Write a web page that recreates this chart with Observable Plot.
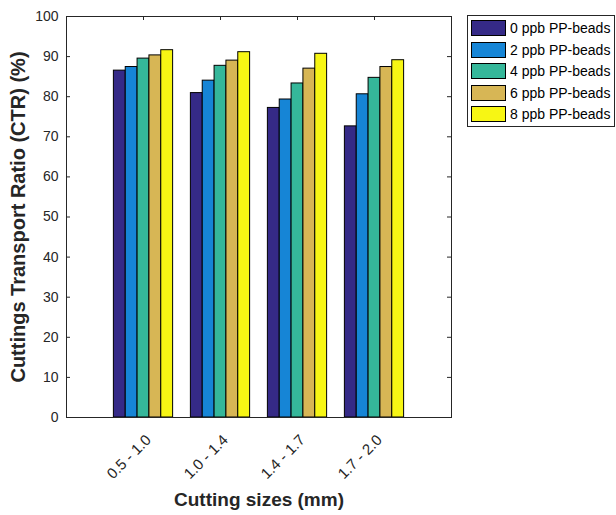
<!DOCTYPE html>
<html>
<head>
<meta charset="utf-8">
<script src="https://cdn.jsdelivr.net/npm/d3@7"></script>
<script src="https://cdn.jsdelivr.net/npm/@observablehq/plot@0.6"></script>
<style>
  html, body { margin: 0; padding: 0; background: #fff; }
  #wrap { position: relative; width: 616px; height: 515px; font-family: "Liberation Sans", Arial, sans-serif; }
  #legend { position: absolute; left: 467px; top: 15px; width: 148px; height: 112px; border: 1px solid #262626; background: #fff; box-sizing: border-box; }
  .item { position: absolute; left: 3px; height: 16px; display: flex; align-items: center; }
  .sw { width: 35px; height: 16px; border: 1px solid #000; box-sizing: border-box; margin-right: 4px; }
  .lt { font-size: 14px; color: #000; white-space: nowrap; line-height: 16px; }
</style>
</head>
<body>
<div id="wrap"></div>
<script>
// ---- data ----
const categories = ["0.5 - 1.0", "1.0 - 1.4", "1.4 - 1.7", "1.7 - 2.0"];
const seriesNames = ["0 ppb PP-beads", "2 ppb PP-beads", "4 ppb PP-beads", "6 ppb PP-beads", "8 ppb PP-beads"];
const ppb0 = [86.5, 80.9, 77.2, 72.6];
const ppb2 = [87.4, 84.0, 79.3, 80.6];
const ppb4 = [89.5, 87.7, 83.3, 84.7];
const ppb6 = [90.3, 89.0, 87.0, 87.4];
const ppb8 = [91.6, 91.1, 90.7, 89.1];
const yTicks = [0, 10, 20, 30, 40, 50, 60, 70, 80, 90, 100];
const colors = ["#352A87", "#1685D6", "#35B79A", "#D7B655", "#F7F614"];
const yLabel = "Cuttings Transport Ratio (CTR) (%)";
const xLabel = "Cutting sizes (mm)";

const seriesValues = [ppb0, ppb2, ppb4, ppb6, ppb8];
const nS = seriesNames.length;
const groupW = nS / (nS + 1.5);
const barW = groupW / nS;
const table = [];
categories.forEach((c, gi) => {
  seriesValues.forEach((vals, si) => {
    const x1 = gi + 1 - groupW / 2 + si * barW;
    table.push({category: c, series: seriesNames[si], value: vals[gi], x1, x2: x1 + barW});
  });
});
const catPos = categories.map((c, i) => ({label: c, pos: i + 1}));

const font = "Liberation Sans, Arial, sans-serif";
const ink = "#262626";

const chart = Plot.plot({
  width: 616,
  height: 515,
  marginLeft: 66,
  marginRight: 165,
  marginTop: 16,
  marginBottom: 98,
  style: {fontFamily: font, background: "#fff", overflow: "visible"},
  x: {domain: [0, catPos.length + 1], axis: null},
  y: {domain: [0, 100], axis: null},
  color: {domain: seriesNames, range: colors},
  marks: [
    Plot.rect(table, {x1: "x1", x2: "x2", y1: 0, y2: "value", fill: "series", stroke: "#000", strokeWidth: 1}),
    Plot.frame({stroke: ink, strokeWidth: 1}),
    Plot.tickY(yTicks, {y: d => d, stroke: ink, insetRight: 381}),
    Plot.tickY(yTicks, {y: d => d, stroke: ink, insetLeft: 381}),
    Plot.tickX(catPos, {x: "pos", stroke: ink, insetBottom: 397}),
    Plot.axisY(yTicks, {tickSize: 0, tickPadding: 8, fontSize: 14, fill: ink, label: null}),
    Plot.text(catPos, {x: "pos", y: 0, text: "label", rotate: -45, textAnchor: "end", dx: 5, dy: 20, fontSize: 15, fill: ink}),
    Plot.text([yLabel], {text: d => d, frameAnchor: "left", textAnchor: "middle", rotate: -90, dx: -48, fontSize: 20, fontWeight: "bold", fill: ink}),
    Plot.text([xLabel], {text: d => d, frameAnchor: "bottom", textAnchor: "middle", dy: 88, fontSize: 19, fontWeight: "bold", fill: ink})
  ]
});

const wrap = document.getElementById("wrap");
wrap.appendChild(chart);

const legend = document.createElement("div");
legend.id = "legend";
seriesNames.forEach((s, i) => {
  const item = document.createElement("div");
  item.className = "item";
  item.style.top = (4 + i * 21.5) + "px";
  const sw = document.createElement("div");
  sw.className = "sw";
  sw.style.background = colors[i];
  const lt = document.createElement("span");
  lt.className = "lt";
  lt.textContent = s;
  item.appendChild(sw);
  item.appendChild(lt);
  legend.appendChild(item);
});
wrap.appendChild(legend);
</script>
</body>
</html>
